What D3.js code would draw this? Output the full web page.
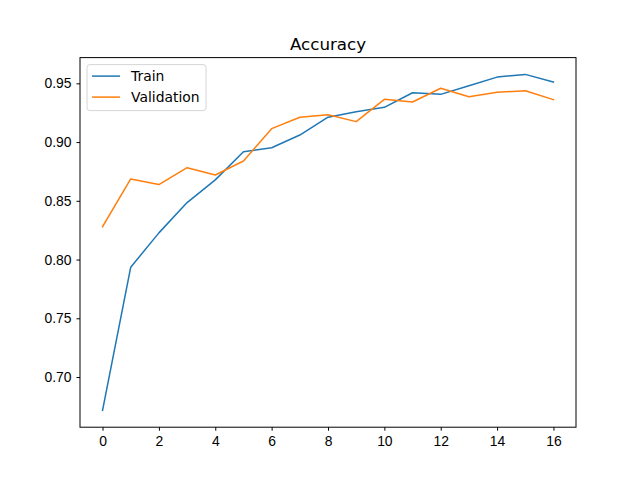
<!DOCTYPE html>
<html>
<head>
<meta charset="utf-8">
<script src="https://cdn.jsdelivr.net/npm/d3@7"></script>
<style>
  body { margin: 0; background: #fff; }
  svg { font-family: "DejaVu Sans", sans-serif; }
  .axis text { font-size: 13.9px; fill: #000; }
  .axis path, .axis line { stroke: #000; stroke-width: 1; }
</style>
</head>
<body>
<svg width="640" height="480"></svg>
<script>
var epochs = d3.range(0, 17);
var train = [0.6716, 0.7935, 0.8227, 0.8485, 0.8678, 0.8918, 0.8952, 0.9060, 0.9212,
             0.9259, 0.9296, 0.9420, 0.9406, 0.9480, 0.9553, 0.9576, 0.9511];
var validation = [0.8280, 0.8686, 0.8638, 0.8782, 0.8720, 0.8839, 0.9114, 0.9211, 0.9232,
                  0.9174, 0.9364, 0.9341, 0.9458, 0.9386, 0.9424, 0.9437, 0.9361];
var xTicks = [0, 2, 4, 6, 8, 10, 12, 14, 16];
var yTicks = [0.70, 0.75, 0.80, 0.85, 0.90, 0.95];
var seriesNames = ["Train", "Validation"];
var colors = ["#1f77b4", "#ff7f0e"];

var svg = d3.select("svg"),
    margin = {top: 57.6, right: 64, bottom: 52.8, left: 80},
    width = +svg.attr("width") - margin.left - margin.right,
    height = +svg.attr("height") - margin.top - margin.bottom;

// matplotlib-style 5% padding around data
var xPad = (d3.max(epochs) - d3.min(epochs)) * 0.05;
var yMin = d3.min(train.concat(validation)), yMax = d3.max(train.concat(validation));
var yPad = (yMax - yMin) * 0.05;

var x = d3.scaleLinear().domain([d3.min(epochs) - xPad, d3.max(epochs) + xPad]).range([0, width]),
    y = d3.scaleLinear().domain([yMin - yPad, yMax + yPad]).range([height, 0]);

var g = svg.append("g")
    .attr("transform", "translate(" + margin.left + "," + margin.top + ")");

g.append("g")
    .attr("class", "axis axis--x")
    .attr("transform", "translate(0," + height + ")")
    .call(d3.axisBottom(x).tickValues(xTicks).tickSize(3.5).tickPadding(5).tickFormat(d3.format("d")))
    .call(function(a){ a.select(".domain").remove(); });

g.append("g")
    .attr("class", "axis axis--y")
    .call(d3.axisLeft(y).tickValues(yTicks).tickSize(3.5).tickPadding(5).tickFormat(d3.format(".2f")))
    .call(function(a){ a.select(".domain").remove(); });

var line = d3.line()
    .x(function(d, i){ return x(epochs[i]); })
    .y(function(d){ return y(d); });

[train, validation].forEach(function(s, k){
  g.append("path")
      .attr("d", line(s))
      .attr("fill", "none")
      .attr("stroke", colors[k])
      .attr("stroke-width", 1.5)
      .attr("stroke-linejoin", "round")
      .attr("stroke-linecap", "square");
});

// frame
g.append("rect")
    .attr("width", width)
    .attr("height", height)
    .attr("fill", "none")
    .attr("stroke", "#000")
    .attr("stroke-width", 1);

svg.append("text")
    .attr("x", margin.left + width / 2)
    .attr("y", margin.top - 8)
    .attr("text-anchor", "middle")
    .attr("font-size", "16.7px")
    .text("Accuracy");

// legend
var lg = g.append("g").attr("transform", "translate(7,7)");
lg.append("rect")
    .attr("width", 119)
    .attr("height", 46)
    .attr("rx", 3)
    .attr("fill", "#fff")
    .attr("fill-opacity", 0.8)
    .attr("stroke", "#d6d6d6");
seriesNames.forEach(function(name, k){
  var row = lg.append("g").attr("transform", "translate(0," + (11.5 + k * 21) + ")");
  row.append("line")
      .attr("x1", 5).attr("x2", 33)
      .attr("stroke", colors[k]).attr("stroke-width", 1.5);
  row.append("text")
      .attr("x", 44).attr("y", 5)
      .attr("font-size", "13.9px")
      .text(name);
});
</script>
</body>
</html>
